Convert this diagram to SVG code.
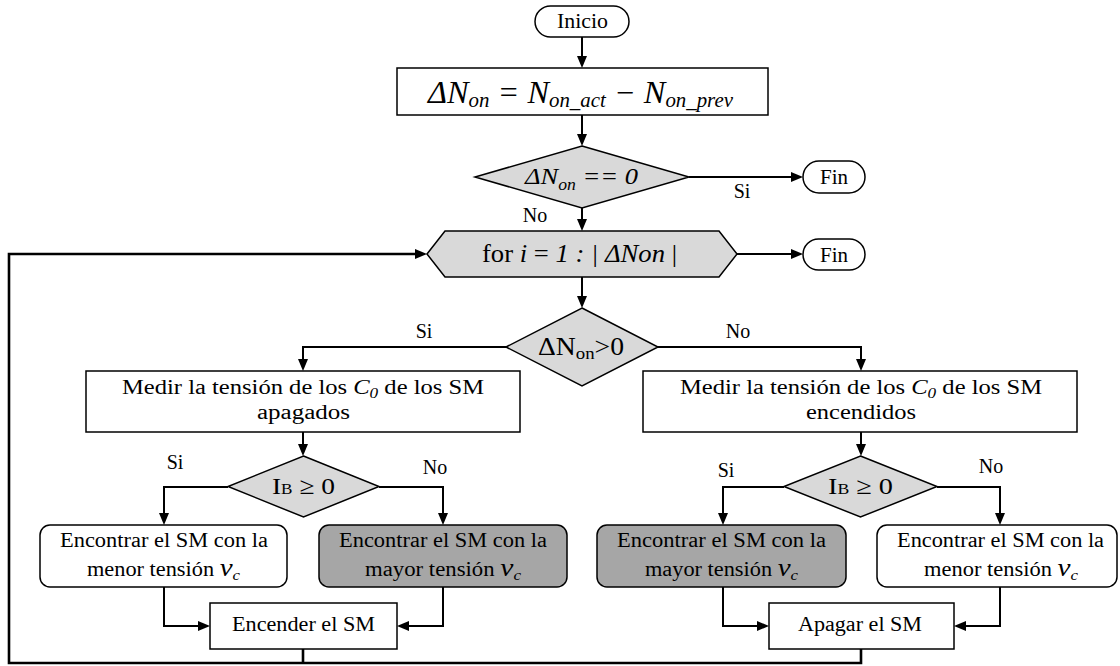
<svg xmlns="http://www.w3.org/2000/svg" width="1120" height="666" viewBox="0 0 1120 666" font-size="20">
<style>
text{font-family:"Liberation Serif","Times New Roman",serif;fill:#000}
.it{font-style:italic}
.box{fill:#fff;stroke:#000;stroke-width:1.5}
.dec{fill:#d9d9d9;stroke:#000;stroke-width:1.5}
.dark{fill:#a6a6a6;stroke:#000;stroke-width:1.5}
.ln{fill:none;stroke:#000;stroke-width:2}
.loop{fill:none;stroke:#000;stroke-width:2.6}
.c{text-anchor:middle}
</style>
<defs>
<marker id="ah" markerUnits="userSpaceOnUse" markerWidth="13" markerHeight="11" refX="4" refY="5" orient="auto">
<path d="M0,0 L12,5 L0,10 z" fill="#000"/>
</marker>
</defs>
<rect width="1120" height="666" fill="#fff"/>

<g id="connectors">
<line class="ln" x1="582" y1="37" x2="582" y2="60" marker-end="url(#ah)"/>
<line class="ln" x1="582" y1="115" x2="582" y2="138" marker-end="url(#ah)"/>
<line class="ln" x1="582" y1="208" x2="582" y2="223" marker-end="url(#ah)"/>
<line class="ln" x1="689" y1="177" x2="795" y2="177" marker-end="url(#ah)"/>
<line class="ln" x1="582" y1="277" x2="582" y2="300" marker-end="url(#ah)"/>
<line class="ln" x1="737" y1="254" x2="795" y2="254" marker-end="url(#ah)"/>
<path class="ln" d="M506,347 H303 V363" marker-end="url(#ah)"/>
<path class="ln" d="M658,347 H861 V363" marker-end="url(#ah)"/>
<line class="ln" x1="303" y1="432" x2="303" y2="448" marker-end="url(#ah)"/>
<line class="ln" x1="861" y1="432" x2="861" y2="448" marker-end="url(#ah)"/>
<path class="ln" d="M228,487 H164 V517" marker-end="url(#ah)"/>
<path class="ln" d="M379,487 H443 V517" marker-end="url(#ah)"/>
<path class="ln" d="M784,487 H723 V517" marker-end="url(#ah)"/>
<path class="ln" d="M937,487 H1000 V517" marker-end="url(#ah)"/>
<path class="ln" d="M164,587 V626 H202" marker-end="url(#ah)"/>
<path class="ln" d="M443,587 V626 H405" marker-end="url(#ah)"/>
<path class="ln" d="M723,587 V626 H761" marker-end="url(#ah)"/>
<path class="ln" d="M1000,587 V626 H962" marker-end="url(#ah)"/>
<path class="loop" d="M303,649 V663"/>
<path class="loop" d="M861,649 V663 H9 V254 H419" marker-end="url(#ah)"/>
<text class="c" x="742" y="198">Si</text>
<text class="c" x="535" y="222">No</text>
<text class="c" x="424" y="338">Si</text>
<text class="c" x="738" y="338">No</text>
<text class="c" x="175" y="469">Si</text>
<text class="c" x="435" y="474">No</text>
<text class="c" x="726" y="477">Si</text>
<text class="c" x="991" y="473">No</text>
</g>

<g id="inicio">
<rect class="box" x="535" y="6" width="94" height="31" rx="15.5"/>
<text x="557" y="28" textLength="51" lengthAdjust="spacingAndGlyphs">Inicio</text>
</g>

<g id="calc">
<rect class="box" x="397" y="68" width="371" height="47"/>
<text class="it" x="428" y="103" font-size="31" textLength="305" lengthAdjust="spacingAndGlyphs">ΔN<tspan font-size="20" dy="4">on</tspan><tspan dy="-4"> = N</tspan><tspan font-size="20" dy="4">on_act</tspan><tspan dy="-4"> − N</tspan><tspan font-size="20" dy="4">on_prev</tspan></text>
</g>

<g id="check-zero">
<polygon class="dec" points="582,146 689,177 582,208 475,177"/>
<text class="it" x="525" y="184" font-size="24" textLength="113" lengthAdjust="spacingAndGlyphs">ΔN<tspan font-size="16" dy="6">on</tspan><tspan dy="-6"> == 0</tspan></text>
</g>

<g id="fin1">
<rect class="box" x="803" y="161" width="62" height="32" rx="16"/>
<text x="820" y="184" textLength="28" lengthAdjust="spacingAndGlyphs">Fin</text>
</g>

<g id="for-loop">
<polygon class="dec" points="427,254 445,231 719,231 737,254 719,277 445,277"/>
<text x="482" y="262" font-size="25" textLength="195" lengthAdjust="spacingAndGlyphs">for <tspan class="it">i</tspan> = <tspan class="it">1 : | ΔNon</tspan> |</text>
</g>

<g id="fin2">
<rect class="box" x="803" y="239" width="62" height="31" rx="15.5"/>
<text x="820" y="261.5" textLength="28" lengthAdjust="spacingAndGlyphs">Fin</text>
</g>

<g id="check-sign">
<polygon class="dec" points="582,308 658,347 582,386 506,347"/>
<text x="538" y="355" font-size="25" textLength="86" lengthAdjust="spacingAndGlyphs">ΔN<tspan font-size="17" dy="4">on</tspan><tspan dy="-4">&gt;0</tspan></text>
</g>

<g id="measure-off">
<rect class="box" x="86" y="371" width="434" height="61"/>
<text x="122" y="394" textLength="362" lengthAdjust="spacingAndGlyphs">Medir la tensión de los  <tspan class="it">C</tspan><tspan class="it" font-size="14" dy="4">0</tspan><tspan dy="-4"> de los SM</tspan></text>
<text x="257" y="419" textLength="93" lengthAdjust="spacingAndGlyphs">apagados</text>
</g>

<g id="measure-on">
<rect class="box" x="643" y="371" width="434" height="61"/>
<text x="680" y="394" textLength="362" lengthAdjust="spacingAndGlyphs">Medir la tensión de los  <tspan class="it">C</tspan><tspan class="it" font-size="14" dy="4">0</tspan><tspan dy="-4"> de los SM</tspan></text>
<text x="806" y="419" textLength="110" lengthAdjust="spacingAndGlyphs">encendidos</text>
</g>

<g id="ib-left">
<polygon class="dec" points="303.5,456 379,486.5 303.5,517 228,486.5"/>
<text x="272" y="494" font-size="24" textLength="63" lengthAdjust="spacingAndGlyphs">I<tspan font-size="15">B</tspan> ≥ 0</text>
</g>

<g id="ib-right">
<polygon class="dec" points="860.5,456 937,486.5 860.5,517 784,486.5"/>
<text x="828" y="494" font-size="24" textLength="65" lengthAdjust="spacingAndGlyphs">I<tspan font-size="15">B</tspan> ≥ 0</text>
</g>

<g id="find-min-left">
<rect class="box" x="40" y="525" width="247" height="62" rx="10"/>
<text x="60" y="547" textLength="208" lengthAdjust="spacingAndGlyphs">Encontrar el SM con la</text>
<text x="87" y="576" textLength="153" lengthAdjust="spacingAndGlyphs">menor tensión <tspan class="it" font-size="26">v</tspan><tspan class="it" font-size="15" dy="4">c</tspan></text>
</g>

<g id="find-max-left">
<rect class="dark" x="319" y="525" width="248" height="62" rx="10"/>
<text x="339" y="547" textLength="208" lengthAdjust="spacingAndGlyphs">Encontrar el SM con la</text>
<text x="365" y="576" textLength="156" lengthAdjust="spacingAndGlyphs">mayor tensión <tspan class="it" font-size="26">v</tspan><tspan class="it" font-size="15" dy="4">c</tspan></text>
</g>

<g id="find-max-right">
<rect class="dark" x="597" y="525" width="249" height="62" rx="10"/>
<text x="617" y="547" textLength="209" lengthAdjust="spacingAndGlyphs">Encontrar el SM con la</text>
<text x="645" y="576" textLength="153" lengthAdjust="spacingAndGlyphs">mayor tensión <tspan class="it" font-size="26">v</tspan><tspan class="it" font-size="15" dy="4">c</tspan></text>
</g>

<g id="find-min-right">
<rect class="box" x="877" y="525" width="240" height="62" rx="10"/>
<text x="897" y="547" textLength="207" lengthAdjust="spacingAndGlyphs">Encontrar el SM con la</text>
<text x="924" y="576" textLength="154" lengthAdjust="spacingAndGlyphs">menor tensión <tspan class="it" font-size="26">v</tspan><tspan class="it" font-size="15" dy="4">c</tspan></text>
</g>

<g id="switch-on">
<rect class="box" x="210" y="603" width="187" height="46"/>
<text x="232" y="631" textLength="143" lengthAdjust="spacingAndGlyphs">Encender el SM</text>
</g>

<g id="switch-off">
<rect class="box" x="769" y="603" width="185" height="46"/>
<text x="798" y="631" textLength="124" lengthAdjust="spacingAndGlyphs">Apagar el SM</text>
</g>
</svg>
